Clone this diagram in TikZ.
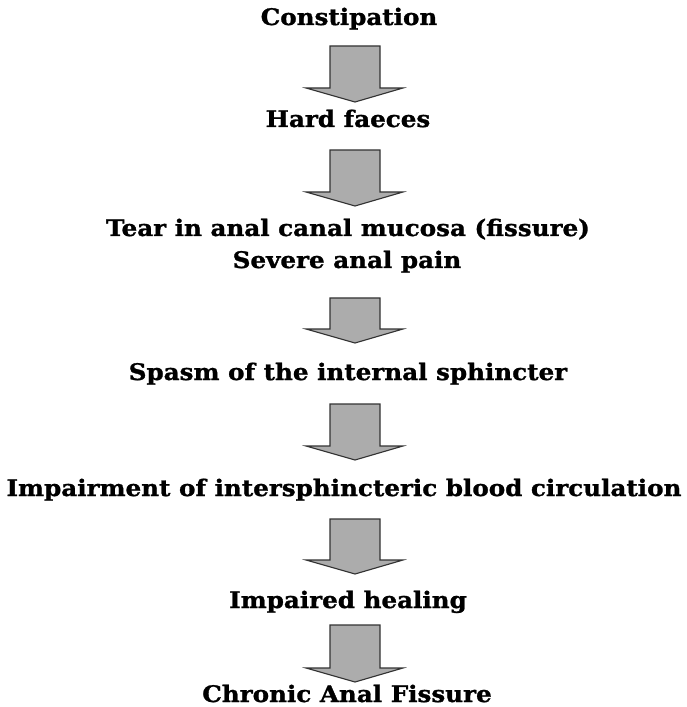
\documentclass[tikz,border=0pt]{standalone}
\usepackage{fontspec}
\setmainfont{DejaVu Serif}[BoldFeatures={FakeStretch=1.08, FakeBold=1.2}]
\usepackage{tikz}

\begin{document}
\begin{tikzpicture}[x=0.025cm, y=-0.025cm,
    step text/.style={anchor=base, font=\bfseries\fontsize{16.2}{19}\selectfont, inner sep=0pt},
    down arrow/.style={draw=black!80, fill=gray!65, line width=0.8pt, line join=miter}]
    \useasboundingbox (0,0) rectangle (686,707);

    % the chain of causes, one node per line
    \node[step text] (constipation) at (349, 25) {Constipation};
    \node[step text] (faeces) at (348, 127) {Hard faeces};
    \node[step text] (tear) at (348, 236) {Tear in anal canal mucosa (fissure)};
    \node[step text] (pain) at (347, 268) {Severe anal pain};
    \node[step text] (spasm) at (348, 380) {Spasm of the internal sphincter};
    \node[step text] (impairment) at (344, 496) {Impairment of intersphincteric blood circulation};
    \node[step text] (healing) at (348, 608) {Impaired healing};
    \node[step text] (chronic) at (347, 702) {Chronic Anal Fissure};

    % block arrows: top of shaft / tip
    \foreach \t/\b in {46/102, 150/206, 298/343, 404/460, 519/574, 625/682} {
        \draw[down arrow] (330, \t) -- (380, \t) -- (380, \b - 14) -- (403, \b - 14)
            -- (355, \b) -- (306, \b - 14) -- (330, \b - 14) -- cycle;
    }
\end{tikzpicture}
\end{document}
